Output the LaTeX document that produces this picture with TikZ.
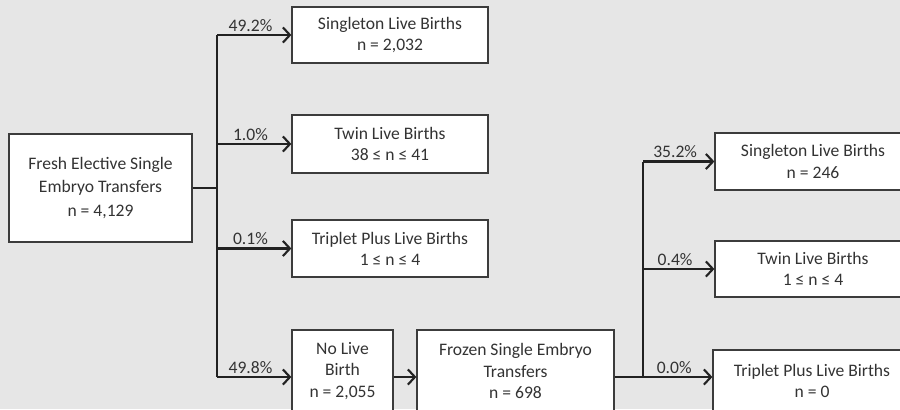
\documentclass[tikz,border=0pt]{standalone}
\usepackage{fontspec}
\setmainfont{Carlito}
\usetikzlibrary{arrows.meta}
\definecolor{bggray}{HTML}{E6E6E6}
\definecolor{boxline}{HTML}{3C3C3C}
\definecolor{arrline}{HTML}{222222}
\definecolor{txtgray}{HTML}{333333}
\tikzset{
  box/.style={draw=boxline, fill=white, line width=1.1pt, align=center, inner sep=0pt,
    text=txtgray, font=\fontsize{15}{18}\selectfont},
  wire/.style={draw=arrline, line width=2.2pt},
  arr/.style={wire, -{Straight Barb[length=6pt,width=13pt,line width=1.8pt]}},
  pct/.style={above, pos=0.45, inner sep=2pt, text=txtgray, font=\fontsize{15}{18}\selectfont},
}
\begin{document}
\begin{tikzpicture}[x=0.03cm, y=-0.03cm]
    % Background
    \fill[bggray] (0,0) rectangle (900,409);
    \useasboundingbox (0,0) rectangle (900,409);
    \clip (0,0) rectangle (900,409);

    % Fresh transfers and their outcomes
    \node[box, minimum width=5.49cm, minimum height=3.24cm,
      font=\fontsize{15}{20}\selectfont] (fresh) at (100.5,188)
      {Fresh Elective Single\\Embryo Transfers\\n = 4,129};
    \node[box, minimum width=5.88cm, minimum height=1.68cm] (single1) at (390,35)
      {Singleton Live Births\\n = 2,032};
    \node[box, minimum width=5.88cm, minimum height=1.74cm] (twin1) at (390,144)
      {Twin Live Births\\38 ≤ n ≤ 41};
    \node[box, minimum width=5.88cm, minimum height=1.71cm] (trip1) at (390,248.5)
      {Triplet Plus Live Births\\1 ≤ n ≤ 4};
    \node[box, minimum width=3.03cm, minimum height=2.46cm] (nolive) at (342.5,371)
      {No Live\\Birth\\n = 2,055};

    % Frozen transfers and their outcomes
    \node[box, minimum width=5.91cm, minimum height=2.46cm] (frozen) at (515.5,371)
      {Frozen Single Embryo\\Transfers\\n = 698};
    \node[box, minimum width=5.88cm, minimum height=1.71cm] (single2) at (813,161.5)
      {Singleton Live Births\\n = 246};
    \node[box, minimum width=5.88cm, minimum height=1.68cm] (twin2) at (813,269)
      {Twin Live Births\\1 ≤ n ≤ 4};
    \node[box, minimum width=5.94cm, minimum height=1.86cm] (trip2) at (812,381)
      {Triplet Plus Live Births\\n = 0};

    % Forks
    \coordinate (fork1) at (217,188);
    \coordinate (fork2) at (643,377);

    \draw[wire] (fresh.east) -- (fork1);
    \draw[wire] (fork1 |- single1.west) -- (fork1 |- fork2);
    \foreach \dest/\val in {single1/49.2, twin1/1.0, trip1/0.1}
      \draw[arr] (fork1 |- \dest.west) -- node[pct] {\val\%} (\dest.west);
    \draw[arr] (fork1 |- fork2) -- node[pct] {49.8\%} (nolive.west |- fork2);

    \draw[arr] (nolive.east |- fork2) -- (frozen.west |- fork2);
    \draw[wire] (frozen.east |- fork2) -- (fork2);
    \draw[wire] (fork2 |- single2.west) -- (fork2);
    \foreach \dest/\val in {single2/35.2, twin2/0.4}
      \draw[arr] (fork2 |- \dest.west) -- node[pct] {\val\%} (\dest.west);
    \draw[arr] (fork2) -- node[pct] {0.0\%} (trip2.west |- fork2);

\end{tikzpicture}
\end{document}
